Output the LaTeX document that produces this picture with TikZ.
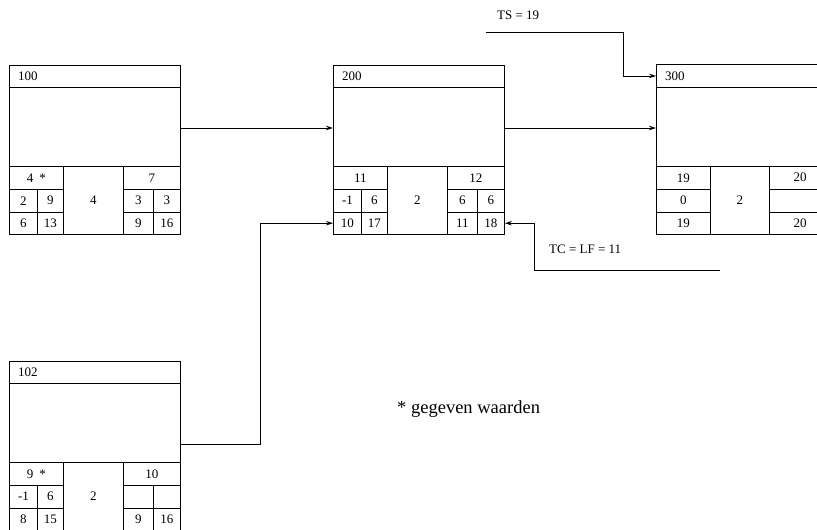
\documentclass[tikz,border=0pt]{standalone}
\usepackage{fontspec}
\setmainfont{Liberation Serif}
\usetikzlibrary{arrows.meta}
\tikzset{
 cell/.style={draw, line width=0.9pt, inner sep=0pt, anchor=north west, font=\fontsize{13}{15}\selectfont},
 arr/.style={line width=0.9pt, -{Stealth[length=7pt,width=4.5pt]}},
 lbl/.style={anchor=west, inner sep=0pt, font=\fontsize{13}{15}\selectfont},
 txt/.style={inner sep=0pt, font=\fontsize{13}{15}\selectfont},
}
\newcommand\abox[7]{%
\begin{scope}[shift={(#2,#3)}]
\node[cell,minimum width=171pt,minimum height=22pt] (#1-hdr) at (0,0) {};
\node[lbl] (#1-id) at (9,11) {#4};
\node[cell,minimum width=171pt,minimum height=79pt] (#1-body) at (0,22) {};
\node[cell,minimum width=60pt,minimum height=68pt] (#1-mid) at (54,101) {#5};
\node[cell,minimum width=54pt,minimum height=23pt] (#1-r1l) at (0,101) {#6};
\node[cell,minimum width=57pt,minimum height=23pt] (#1-r1r) at (114,101) {#7};
\end{scope}}
\newcommand\arow[8]{%
\begin{scope}[shift={(#3,#4)}]
\node[cell,minimum width=28pt,minimum height=22.5pt] (#1-#2a) at (0,0) {#5};
\node[cell,minimum width=26pt,minimum height=22.5pt] (#1-#2b) at (28,0) {#6};
\node[cell,minimum width=30pt,minimum height=22.5pt] (#1-#2c) at (114,0) {#7};
\node[cell,minimum width=27pt,minimum height=22.5pt] (#1-#2d) at (144,0) {#8};
\end{scope}}
\begin{document}
\begin{tikzpicture}[x=1pt,y=-1pt]
\clip (0,0) rectangle (817,530);
% box 100
\abox{a}{9}{65}{100}{4}{4\hspace{6pt}*}{7}
\arow{a}{r2}{9}{189}{2}{9}{3}{3}
\arow{a}{r3}{9}{211.5}{6}{13}{9}{16}
% box 200
\abox{b}{333}{65}{200}{2}{11}{12}
\arow{b}{r2}{333}{189}{-1}{6}{6}{6}
\arow{b}{r3}{333}{211.5}{10}{17}{11}{18}
% box 102
\abox{d}{9}{361}{102}{2}{9\hspace{6pt}*}{10}
\arow{d}{r2}{9}{485}{-1}{6}{}{}
\arow{d}{r3}{9}{507.5}{8}{15}{9}{16}
% box 300
\begin{scope}[shift={(656,64)}]
\node[cell,minimum width=200pt,minimum height=23pt] (c-hdr) at (0,0) {};
\node[lbl] (c-id) at (9,12) {300};
\node[cell,minimum width=200pt,minimum height=79pt] (c-body) at (0,23) {};
\node[cell,minimum width=59pt,minimum height=68pt] (c-mid) at (54,102) {2};
\node[cell,minimum width=54pt,minimum height=23pt] (c-r1l) at (0,102) {19};
\node[cell,minimum width=54pt,minimum height=22.5pt] (c-r2l) at (0,125) {0};
\node[cell,minimum width=54pt,minimum height=22.5pt] (c-r3l) at (0,147.5) {19};
\node[cell,minimum width=87pt,minimum height=23pt] (c-r1r) at (113,102) {};
\node[cell,minimum width=87pt,minimum height=22.5pt] (c-r2r) at (113,125) {};
\node[cell,minimum width=87pt,minimum height=22.5pt] (c-r3r) at (113,147.5) {};
\node[txt] (c-r1rt) at (144,113.5) {20};
\node[txt] (c-r3rt) at (144,158.75) {20};
\end{scope}
% connectors
\draw[arr] (a-body.east |- 0,128) -- (b-body.west |- 0,128);
\draw[arr] (b-body.east |- 0,128) -- (c-body.west |- 0,128);
\coordinate (dout) at ([yshift=18pt]d-body.south east);
\coordinate (bend1) at (260,0);
\draw[arr] (dout) -- (dout -| bend1) |- (b-r3a.west);
\coordinate (ts) at (486,32);
\coordinate (tsb) at (623,0);
\draw[arr] (ts) -- (ts -| tsb) |- (c-hdr.west);
\coordinate (tc) at (720,270);
\coordinate (tcb) at (534,0);
\draw[arr] (tc) -- (tc -| tcb) |- (b-r3d.east);
% labels
\node[lbl] (tslbl) at (497,15) {TS = 19};
\node[lbl] (tclbl) at (549,249) {TC = LF = 11};
\node[lbl,font=\fontsize{18.5}{20}\selectfont] (legend) at (397,409) {* gegeven waarden};
\end{tikzpicture}
\end{document}
